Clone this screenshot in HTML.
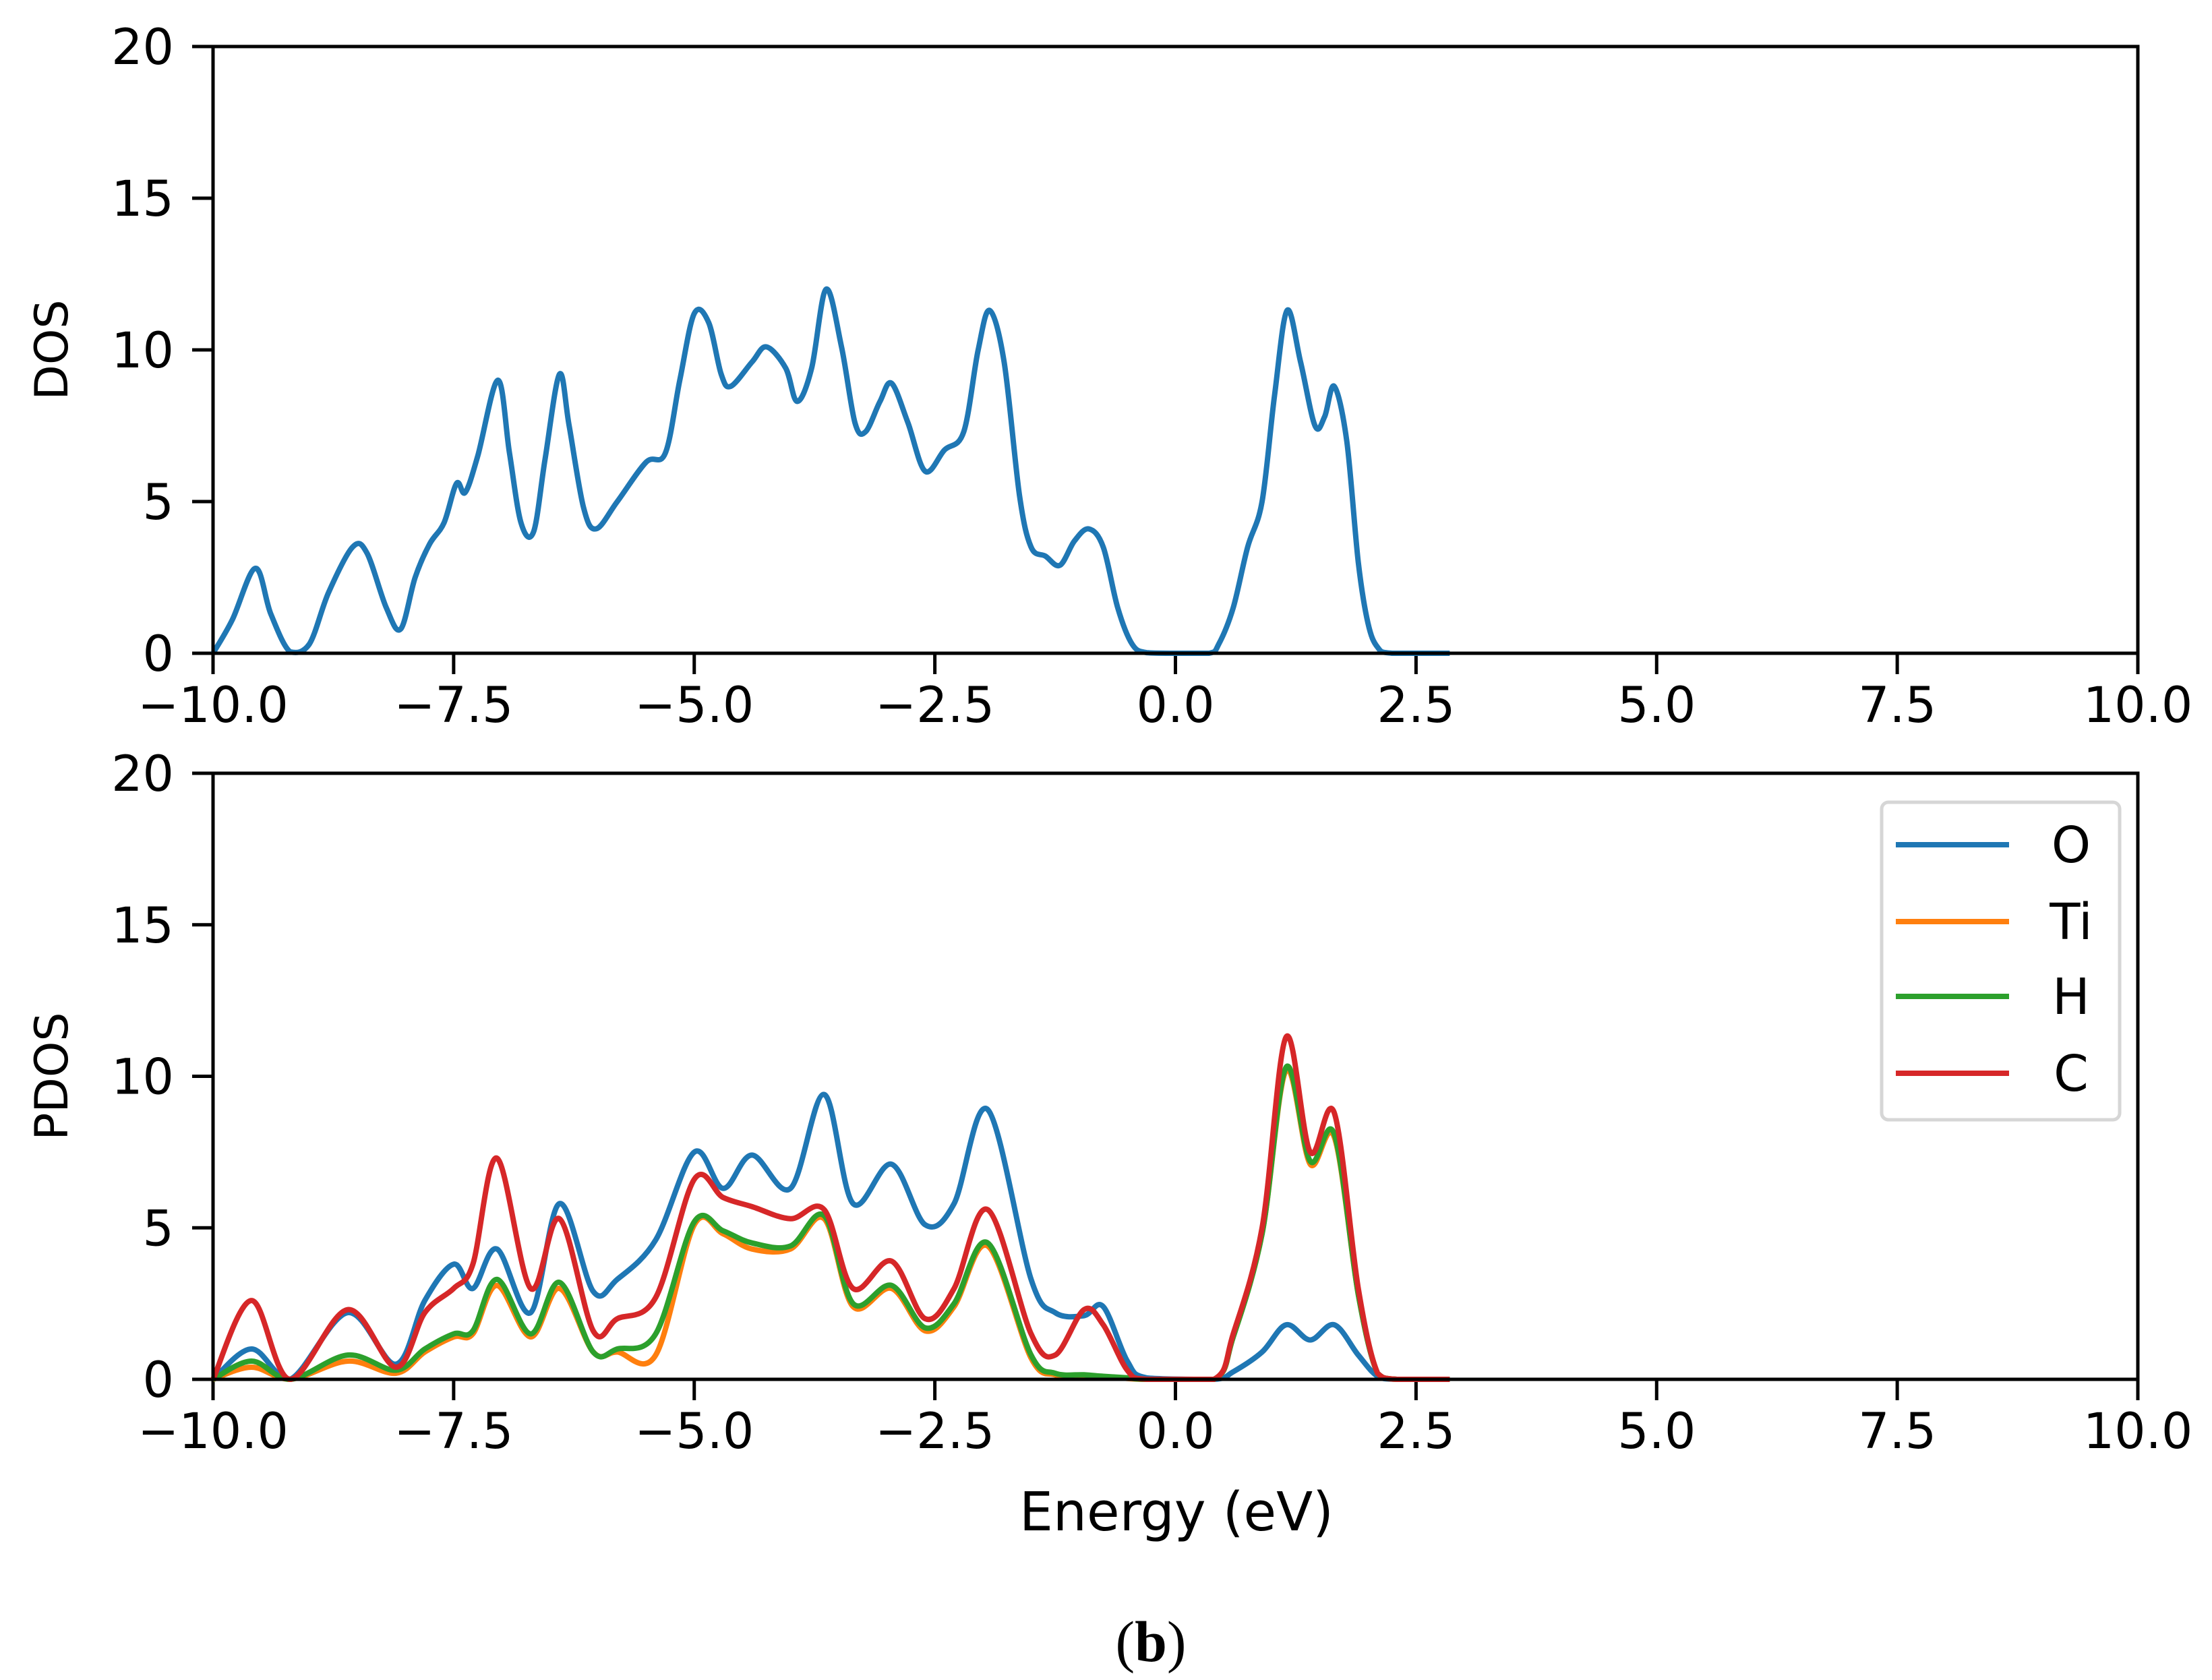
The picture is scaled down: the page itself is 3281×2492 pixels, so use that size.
<!DOCTYPE html>
<html><head><meta charset="utf-8"><style>
html,body{margin:0;padding:0;background:#fff;}
svg{display:block;font-family:"DejaVu Sans","Liberation Sans",sans-serif;}
</style></head><body>
<svg id="chart" width="3281" height="2492" viewBox="0 0 3281 2492" xmlns="http://www.w3.org/2000/svg">
<rect width="3281" height="2492" fill="#fff"/>
<g id="top"></g>
<g id="bot"></g>
<text x="1745" y="2270" font-size="79" text-anchor="middle" fill="#000">Energy (eV)</text>
<text x="1707" y="2464" font-size="86" text-anchor="middle" fill="#000" font-family="Liberation Serif, serif">(<tspan font-weight="bold">b</tspan>)</text>
</svg>
<script>
const xTicks=[-10,-7.5,-5,-2.5,0,2.5,5,7.5,10];
const xTickLabels=["\u221210.0","\u22127.5","\u22125.0","\u22122.5","0.0","2.5","5.0","7.5","10.0"];
const yTicks=[0,5,10,15,20];
const yTickLabels=["0","5","10","15","20"];
const dosE=[-10,-9.8,-9.56,-9.4,-9.2,-9.0,-8.8,-8.55,-8.4,-8.2,-8.05,-7.9,-7.75,-7.6,-7.47,-7.38,-7.25,-7.04,-6.92,-6.8,-6.67,-6.55,-6.4,-6.3,-6.15,-6.02,-5.8,-5.5,-5.3,-5.15,-5.0,-4.85,-4.72,-4.62,-4.4,-4.25,-4.05,-3.93,-3.78,-3.63,-3.47,-3.33,-3.22,-3.07,-2.95,-2.78,-2.6,-2.4,-2.2,-2.05,-1.93,-1.78,-1.62,-1.5,-1.35,-1.2,-1.05,-0.9,-0.75,-0.6,-0.45,-0.3,0,0.35,0.45,0.6,0.75,0.9,1.03,1.16,1.3,1.45,1.55,1.65,1.78,1.9,2.0,2.1,2.25,2.85];
const dosV=[0,1.1,2.8,1.3,0.05,0.3,2.0,3.5,3.3,1.5,0.8,2.5,3.6,4.3,5.6,5.3,6.5,9.0,6.6,4.3,4.0,6.4,9.2,7.5,4.8,4.1,5.0,6.3,6.6,9.0,11.2,10.9,9.2,8.8,9.6,10.1,9.4,8.3,9.4,12.0,10.1,7.6,7.3,8.3,8.9,7.6,6.0,6.7,7.3,10.0,11.3,9.6,5.2,3.5,3.2,2.9,3.7,4.1,3.5,1.5,0.3,0.02,0,0,0.3,1.5,3.5,5.0,8.5,11.3,9.6,7.5,7.8,8.8,7.0,3.0,1.0,0.2,0,0];
const pE=[-10,-9.6,-9.2,-8.6,-8.1,-7.8,-7.5,-7.3,-7.05,-6.7,-6.4,-6.05,-5.8,-5.4,-5.0,-4.7,-4.4,-4.0,-3.65,-3.35,-2.95,-2.6,-2.3,-1.95,-1.5,-1.25,-0.95,-0.75,-0.5,-0.3,0.4,0.6,0.9,1.15,1.4,1.65,1.9,2.1,2.3,2.85];
const pdosO=[0,1.0,0,2.2,0.5,2.6,3.8,3.0,4.3,2.2,5.8,2.9,3.3,4.6,7.5,6.3,7.4,6.3,9.4,5.8,7.1,5.1,5.8,8.9,3.3,2.2,2.1,2.4,0.6,0.05,0,0.25,0.9,1.8,1.3,1.8,0.8,0.1,0,0];
const pdosTi=[0,0.4,0,0.6,0.2,0.9,1.4,1.5,3.1,1.4,3.0,0.9,0.9,0.8,5.1,4.8,4.3,4.3,5.3,2.4,3.0,1.6,2.4,4.4,0.7,0.15,0.1,0.08,0.03,0,0,1.4,4.8,10.2,7.1,8.0,2.8,0.2,0,0];
const pdosH=[0,0.6,0,0.8,0.3,1.0,1.5,1.6,3.3,1.5,3.2,0.9,1.0,1.5,5.2,4.9,4.5,4.4,5.4,2.5,3.1,1.7,2.5,4.5,0.8,0.2,0.15,0.1,0.05,0,0,1.4,4.8,10.3,7.2,8.1,2.8,0.2,0,0];
const pdosC=[0,2.6,0,2.3,0.4,2.2,3.0,3.8,7.3,3.0,5.3,1.6,2.0,2.7,6.6,6.0,5.7,5.3,5.6,3.0,3.9,2.0,3.0,5.6,1.5,0.8,2.3,1.8,0.3,0,0,1.5,5.0,11.3,7.5,8.8,3.0,0.2,0,0];
const legendLabels=["O","Ti","H","C"];
const colors=["#1f77b4","#ff7f0e","#2ca02c","#d62728"];

const NS="http://www.w3.org/2000/svg";
const L=316,R=3171;
function mk(tag,attrs,parent){const e=document.createElementNS(NS,tag);for(const k in attrs)e.setAttribute(k,attrs[k]);parent.appendChild(e);return e;}
function sx(E){return L+(E+10)/20*(R-L);}
function path(xs,ys,T,B){
  const pts=xs.map((x,i)=>[sx(x),B-ys[i]/20*(B-T)]);
  let d="M"+pts[0][0].toFixed(1)+","+pts[0][1].toFixed(1);
  for(let i=0;i<pts.length-1;i++){
    const p0=pts[Math.max(0,i-1)],p1=pts[i],p2=pts[i+1],p3=pts[Math.min(pts.length-1,i+2)];
    let c1y=p1[1]+(p2[1]-p0[1])/6,c2y=p2[1]-(p3[1]-p1[1])/6;
    c1y=Math.min(c1y,B);c2y=Math.min(c2y,B);
    d+=" C"+(p1[0]+(p2[0]-p0[0])/6).toFixed(1)+","+c1y.toFixed(1)+" "+(p2[0]-(p3[0]-p1[0])/6).toFixed(1)+","+c2y.toFixed(1)+" "+p2[0].toFixed(1)+","+p2[1].toFixed(1);
  }
  return d;
}
function axes(g,T,B,ylabel){
  for(let i=0;i<xTicks.length;i++){
    const x=sx(xTicks[i]);
    const t=mk("line",{x1:x,x2:x,y1:B,y2:B+31,stroke:"#000","stroke-width":5},g);
    
    
    const tl=mk("text",{x:x,y:B+102,"font-size":73,"text-anchor":"middle",fill:"#000"},g);
    tl.textContent=xTickLabels[i];
    
    
  }
  for(let i=0;i<yTicks.length;i++){
    const y=B-yTicks[i]/20*(B-T);
    const t=mk("line",{x1:L-31,x2:L,y1:y,y2:y,stroke:"#000","stroke-width":5},g);
    
    
    const tl=mk("text",{x:L-58,y:y+26,"font-size":73,"text-anchor":"end",fill:"#000"},g);
    tl.textContent=yTickLabels[i];
    
    
  }
  const yl=mk("text",{x:0,y:0,"font-size":68,"text-anchor":"middle",fill:"#000",transform:"translate(100,"+((T+B)/2)+") rotate(-90)"},g);
  yl.textContent=ylabel;
  
  
}
function frame(g,T,B){
  const f=mk("rect",{x:L,y:T,width:R-L,height:B-T,fill:"none",stroke:"#000","stroke-width":5},g);
  
  
}
const gt=document.getElementById("top");const T1=69,B1=969;
axes(gt,T1,B1,"DOS");
const p1=mk("path",{d:path(dosE,dosV,T1,B1),fill:"none",stroke:colors[0],"stroke-width":8,"stroke-linejoin":"round"},gt);


frame(gt,T1,B1);
const gb=document.getElementById("bot");const T2=1147,B2=2046;
axes(gb,T2,B2,"PDOS");
const series=[pdosO,pdosTi,pdosH,pdosC];
const sNames=["pdos-o-line","pdos-ti-line","pdos-h-line","pdos-c-line"];
for(let i=0;i<4;i++){
  const p=mk("path",{d:path(pE,series[i],T2,B2),fill:"none",stroke:colors[i],"stroke-width":8,"stroke-linejoin":"round"},gb);
  
  
}
frame(gb,T2,B2);
const lg=mk("g",{},gb);


mk("rect",{x:2791,y:1190,width:353,height:471,rx:10,fill:"#fff","fill-opacity":0.8,stroke:"#d6d6d6","stroke-width":5},lg);
const ly=[1253,1367,1478,1592];
for(let i=0;i<4;i++){
  const e=mk("g",{},lg);
  
  
  mk("line",{x1:2812,x2:2980,y1:ly[i],y2:ly[i],stroke:colors[i],"stroke-width":8},e);
  const t=mk("text",{x:3072,y:ly[i]+26,"font-size":74,"text-anchor":"middle",fill:"#000"},e);
  t.textContent=legendLabels[i];
}
</script>
</body></html>
